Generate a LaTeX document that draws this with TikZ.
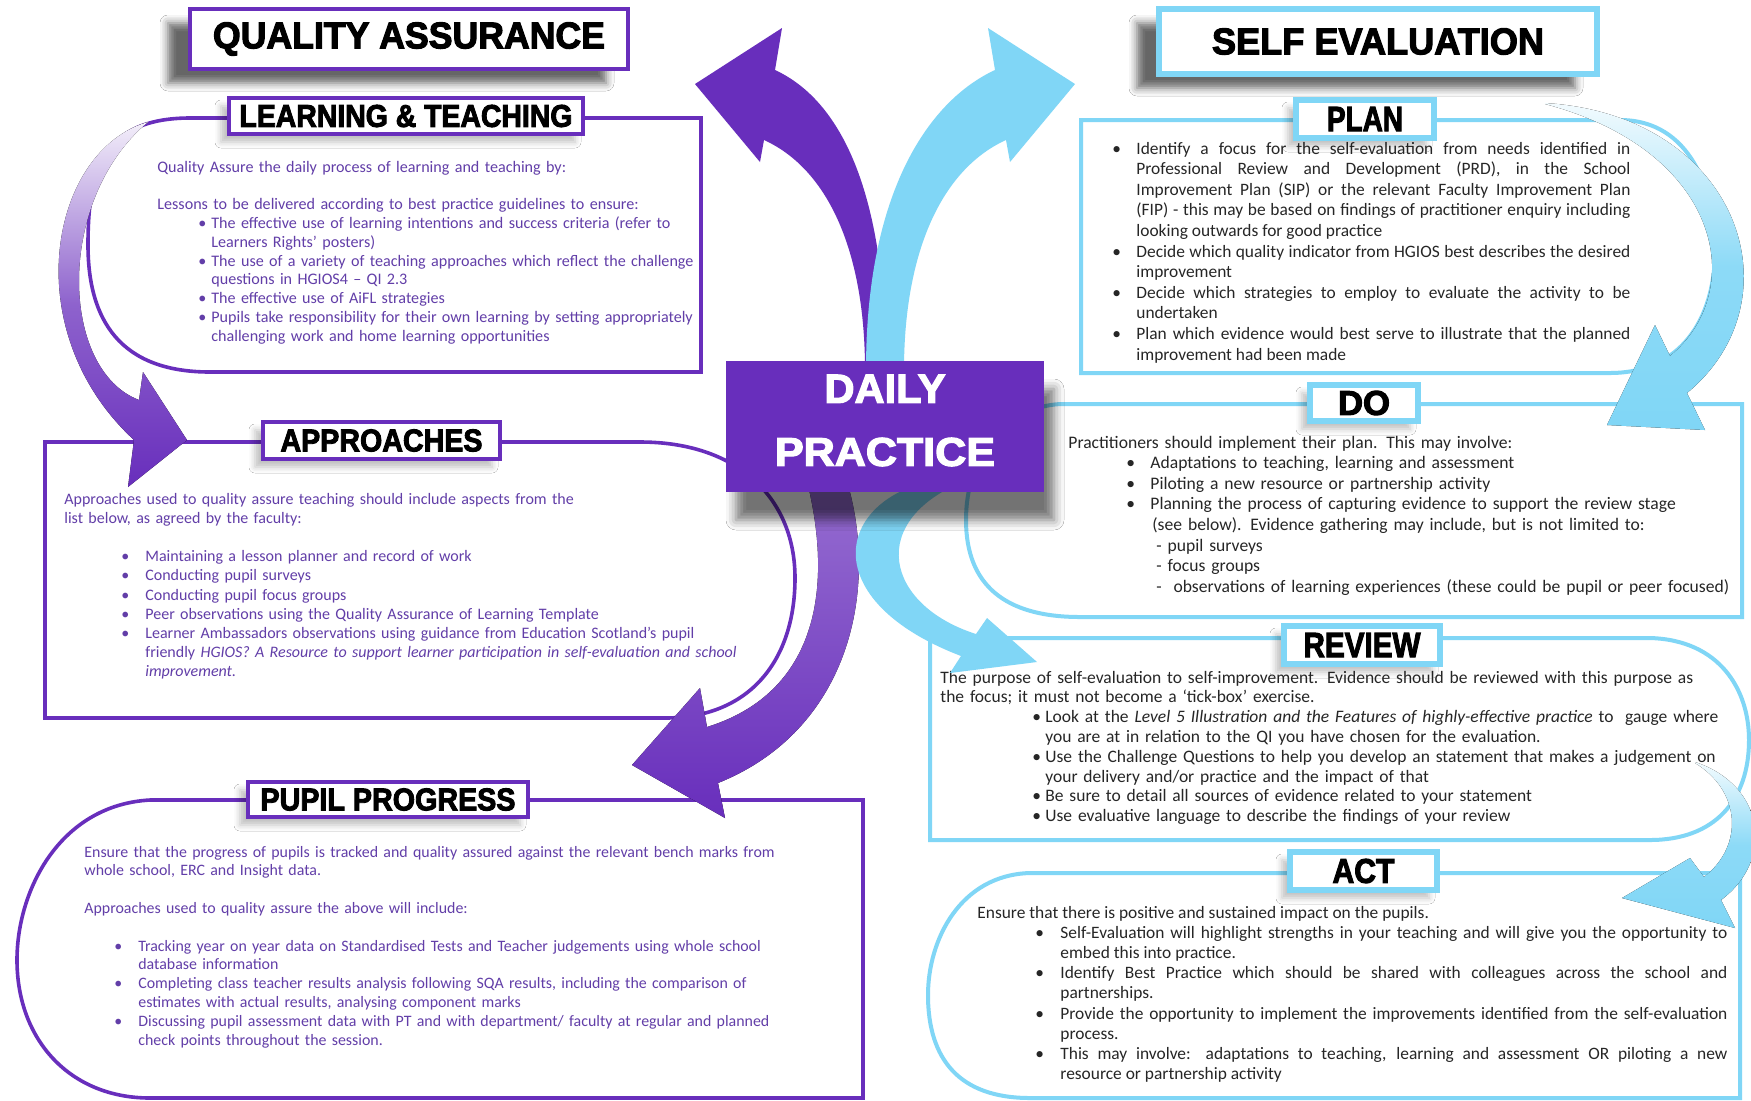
\documentclass[tikz,border=0pt]{standalone}
\usepackage{graphicx}
\usepackage{fontspec}
\setmainfont{Carlito}
\newfontfamily\heavyfont[BoldFeatures={FakeBold=3}]{Liberation Sans}
\usetikzlibrary{shadows.blur}

\definecolor{qa_purple}{RGB}{104,46,188}
\definecolor{qa_text}{RGB}{98,62,168}
\definecolor{se_blue}{RGB}{128,214,246}
\definecolor{se_text}{RGB}{38,38,38}

% heading text squeezed to a given width and cap height
\newcommand\hdr[3]{\resizebox{#1}{#2}{\heavyfont\bfseries #3}}

% bullet lines with a hanging indent
\newlength\bulind
\newlength\txtind
\newcommand\bitem{\hangindent=\txtind\hangafter=1\noindent\hbox to\txtind{\hskip\bulind\textbullet\hfil}}

\tikzset{
  qa_line/.style={draw=qa_purple, line width=1.8pt, fill=white},
  se_line/.style={draw=se_blue, line width=2pt, fill=white},
  qa_title/.style={fill=white, draw=qa_purple, line width=2.2pt, inner sep=0pt,
    blur shadow={shadow xshift=-11pt, shadow yshift=-7pt, shadow opacity=60, shadow blur radius=4pt}},
  se_title/.style={qa_title, draw=se_blue, line width=2.8pt},
  qa_head/.style={fill=white, draw=qa_purple, line width=2pt, inner sep=0pt,
    blur shadow={shadow xshift=-4pt, shadow yshift=-4pt, shadow opacity=25, shadow blur radius=3pt}},
  se_head/.style={qa_head, draw=se_blue, line width=3pt},
  qa_body/.style={anchor=base west, inner sep=0pt, align=left, text width=420pt, text=qa_text},
  se_body/.style={anchor=base west, inner sep=0pt, text=se_text},
  dp_box/.style={fill=qa_purple, inner sep=0pt,
    blur shadow={shadow xshift=5pt, shadow yshift=-14pt, shadow opacity=55, shadow blur radius=5pt}},
}

\begin{document}
\begin{tikzpicture}[x=0.5pt, y=-0.5pt]

  \useasboundingbox (0,0) rectangle (1751,1100);
  \fill[white] (0,0) rectangle (1751,1100);
  \clip (0,0) rectangle (1751,1100);

  % Quality assurance boxes
  \draw[qa_line] (701,118) -- (190,118) .. controls (100,118) and (88,175) .. (88,245)
    .. controls (88,320) and (120,372) .. (210,372) -- (701,372) -- cycle;
  \draw[qa_line] (45,442) -- (640,442) .. controls (740,442) and (795,500) .. (795,578)
    .. controls (795,660) and (750,718) .. (665,718) -- (45,718) -- cycle;
  \draw[qa_line] (863,1098) -- (863,800) -- (150,800) .. controls (60,805) and (17,890) .. (17,960)
    .. controls (17,1040) and (70,1098) .. (150,1098) -- cycle;

  % Self evaluation boxes
  \draw[se_line] (1081,120) -- (1620,120) .. controls (1690,120) and (1715,190) .. (1715,250)
    .. controls (1715,320) and (1680,373) .. (1610,373) -- (1081,373) -- cycle;
  \draw[se_line] (1742,404) -- (1060,404) .. controls (1000,408) and (966,460) .. (966,520)
    .. controls (966,585) and (1005,617) .. (1080,617) -- (1742,617) -- cycle;
  \draw[se_line] (930,638) -- (1650,638) .. controls (1720,640) and (1749,690) .. (1749,740)
    .. controls (1749,800) and (1715,840) .. (1650,840) -- (930,840) -- cycle;
  \draw[se_line] (1740,1098) -- (1740,873) -- (1030,873) .. controls (960,875) and (928,940) .. (928,995)
    .. controls (928,1060) and (960,1098) .. (1030,1098) -- cycle;

  % Learning & teaching text
  \node[qa_body, font=\fontsize{8.05}{9.4}\selectfont] (lt_text) at (157,172) {%
    \setlength\bulind{20.5pt}\setlength\txtind{27pt}%
    Quality Assure the daily process of learning and teaching by:\par
    \vspace{\baselineskip}%
    Lessons to be delivered according to best practice guidelines to ensure:\par
    \bitem The effective use of learning intentions and success criteria (refer to\newline Learners Rights’ posters)\par
    \bitem The use of a variety of teaching approaches which reflect the challenge\newline questions in HGIOS4 – QI 2.3\par
    \bitem The effective use of AiFL strategies\par
    \bitem Pupils take responsibility for their own learning by setting appropriately\newline challenging work and home learning opportunities\par};

  % Approaches text
  \node[qa_body, font=\fontsize{8.0}{9.6}\selectfont] (ap_text) at (64,504) {%
    \setlength\bulind{28.5pt}\setlength\txtind{40.5pt}%
    Approaches used to quality assure teaching should include aspects from the\newline list below, as agreed by the faculty:\par
    \vspace{\baselineskip}%
    \bitem Maintaining a lesson planner and record of work\par
    \bitem Conducting pupil surveys\par
    \bitem Conducting pupil focus groups\par
    \bitem Peer observations using the Quality Assurance of Learning Template\par
    \bitem Learner Ambassadors observations using guidance from Education Scotland’s pupil\newline friendly \textit{HGIOS? A Resource to support learner participation in self-evaluation and school\newline improvement.}\par};

  % Pupil progress text
  \node[qa_body, font=\fontsize{7.95}{9.4}\selectfont] (pp_text) at (84,857) {%
    \setlength\bulind{15pt}\setlength\txtind{27pt}%
    Ensure that the progress of pupils is tracked and quality assured against the relevant bench marks from\newline whole school, ERC and Insight data.\par
    \vspace{\baselineskip}%
    Approaches used to quality assure the above will include:\par
    \vspace{\baselineskip}%
    \bitem Tracking year on year data on Standardised Tests and Teacher judgements using whole school\newline database information\par
    \bitem Completing class teacher results analysis following SQA results, including the comparison of\newline estimates with actual results, analysing component marks\par
    \bitem Discussing pupil assessment data with PT and with department/ faculty at regular and planned\newline check points throughout the session.\par};

  % Plan text
  \node[se_body, align=justify, text width=259pt, font=\fontsize{8.7}{10.3}\selectfont] (plan_text) at (1112,154) {%
    \setlength\bulind{0pt}\setlength\txtind{12pt}%
    \bitem Identify a focus for the self-evaluation from needs identified in\linebreak Professional Review and Development (PRD), in the School\linebreak Improvement Plan (SIP) or the relevant Faculty Improvement Plan\linebreak (FIP) - this may be based on findings of practitioner enquiry including\linebreak looking outwards for good practice\par
    \bitem Decide which quality indicator from HGIOS best describes the desired\linebreak improvement\par
    \bitem Decide which strategies to employ to evaluate the activity to be\linebreak undertaken\par
    \bitem Plan which evidence would best serve to illustrate that the planned\linebreak improvement had been made\par};

  % Do text
  \node[se_body, align=left, text width=400pt, font=\fontsize{8.8}{10.3}\selectfont] (do_text) at (1068,448) {%
    \setlength\bulind{29pt}\setlength\txtind{41pt}%
    Practitioners should implement their plan. This may involve:\par
    \bitem Adaptations to teaching, learning and assessment\par
    \bitem Piloting a new resource or partnership activity\par
    \bitem Planning the process of capturing evidence to support the review stage\newline
    \hspace*{1pt}(see below). Evidence gathering may include, but is not limited to:\newline
    \hspace*{3pt}- pupil surveys\newline
    \hspace*{3pt}- focus groups\newline
    \hspace*{3pt}-\ \ observations of learning experiences (these could be pupil or peer focused)\par};

  % Review text
  \node[se_body, align=left, text width=400pt, font=\fontsize{8.75}{9.9}\selectfont] (rev_text) at (940,683) {%
    \setlength\bulind{46pt}\setlength\txtind{52.5pt}%
    The purpose of self-evaluation to self-improvement. Evidence should be reviewed with this purpose as\newline the focus; it must not become a ‘tick-box’ exercise.\par
    \bitem Look at the \textit{Level 5 Illustration and the Features of highly-effective practice} to\ \ gauge where\newline you are at in relation to the QI you have chosen for the evaluation.\par
    \bitem Use the Challenge Questions to help you develop an statement that makes a judgement on\newline your delivery and/or practice and the impact of that\par
    \bitem Be sure to detail all sources of evidence related to your statement\par
    \bitem Use evaluative language to describe the findings of your review\par};

  % Act text
  \node[se_body, align=justify, text width=375pt, font=\fontsize{8.7}{10.1}\selectfont] (act_text) at (977,918) {%
    \setlength\bulind{29pt}\setlength\txtind{41.5pt}%
    Ensure that there is positive and sustained impact on the pupils.\par
    \bitem Self-Evaluation will highlight strengths in your teaching and will give you the opportunity to\linebreak embed this into practice.\par
    \bitem Identify Best Practice which should be shared with colleagues across the school and\linebreak partnerships.\par
    \bitem Provide the opportunity to implement the improvements identified from the self-evaluation\linebreak process.\par
    \bitem This may involve: adaptations to teaching, learning and assessment OR piloting a new\linebreak resource or partnership activity\par};

  % Curved arrows, left side
  \fill[top color=qa_purple!8, bottom color=qa_purple, middle color=qa_purple!75]
    (148,122) .. controls (50,150) and (15,330) .. (134,440) -- (128,487) -- (187,440) -- (143,372)
    -- (139,400) .. controls (60,370) and (55,200) .. (148,122) -- cycle;
  \fill[qa_purple] (865,370) .. controls (865,255) and (830,170) .. (764,140) -- (760,162) -- (695,84)
    -- (782,28) -- (775,70) .. controls (840,100) and (886,190) .. (886,370) -- cycle;
  \fill[top color=qa_purple!70, bottom color=qa_purple]
    (808,485) -- (848,485) .. controls (878,590) and (850,730) .. (718,783) -- (725,818) -- (632,765)
    -- (700,688) -- (707,727) .. controls (810,695) and (835,600) .. (808,485) -- cycle;

  % Curved arrows, right side
  \fill[se_blue] (904,370) .. controls (904,255) and (940,170) .. (1006,140) -- (1010,162) -- (1075,84)
    -- (988,28) -- (995,70) .. controls (930,100) and (866,190) .. (866,370) -- cycle;
  \fill[se_blue] (935,480) .. controls (835,500) and (815,600) .. (961,656) -- (950,673) -- (1037,662)
    -- (987,618) -- (976,634) .. controls (885,605) and (865,520) .. (967,480) -- cycle;
  \fill[top color=se_blue!10, bottom color=se_blue, middle color=se_blue!90]
    (1545,103) .. controls (1740,115) and (1800,300) .. (1687,393) -- (1705,430) -- (1607,425)
    -- (1655,325) -- (1670,356) .. controls (1750,290) and (1720,150) .. (1545,104) -- cycle;
  \fill[top color=se_blue!10, bottom color=se_blue, middle color=se_blue!90]
    (1695,762) .. controls (1765,785) and (1775,860) .. (1721,900) -- (1735,928) -- (1622,898)
    -- (1690,858) -- (1704,877) .. controls (1745,845) and (1740,790) .. (1695,763) -- cycle;

  % Headings
  \node[qa_title, minimum width=219pt, minimum height=30pt] (qa) at (409,39) {\hdr{196pt}{13pt}{QUALITY ASSURANCE}};
  \node[se_title, minimum width=219pt, minimum height=32.5pt] (se) at (1378,41.5) {\hdr{166pt}{13pt}{SELF EVALUATION}};

  \node[qa_head, minimum width=177pt, minimum height=18pt] (lt_head) at (406,116) {\hdr{166.5pt}{11pt}{LEARNING \& TEACHING}};
  \node[qa_head, minimum width=118.5pt, minimum height=18.5pt] (ap_head) at (381.5,440.5) {\hdr{101pt}{11pt}{APPROACHES}};
  \node[qa_head, minimum width=140pt, minimum height=17.5pt] (pp_head) at (388,799.5) {\hdr{127.5pt}{11pt}{PUPIL PROGRESS}};

  \node[se_head, minimum width=69pt, minimum height=19pt] (plan_head) at (1365,119) {\hdr{38pt}{12pt}{PLAN}};
  \node[se_head, minimum width=54pt, minimum height=18pt] (do_head) at (1364,403) {\hdr{26pt}{12pt}{DO}};
  \node[se_head, minimum width=78pt, minimum height=19pt] (rev_head) at (1362,645) {\hdr{58.5pt}{12pt}{REVIEW}};
  \node[se_head, minimum width=73.5pt, minimum height=19pt] (act_head) at (1363.5,871) {\hdr{31pt}{12pt}{ACT}};

  % Daily practice
  \node[dp_box, minimum width=159pt, minimum height=65.5pt] (daily) at (885,426.5) {};
  \node[text=white, align=center, inner sep=0pt, font=\fontsize{14}{31.5}\selectfont] (daily_text)
    at ([yshift=3pt]daily.center) {\hdr{60.5pt}{14pt}{DAILY}\\\hdr{110pt}{14pt}{PRACTICE}};

\end{tikzpicture}
\end{document}
